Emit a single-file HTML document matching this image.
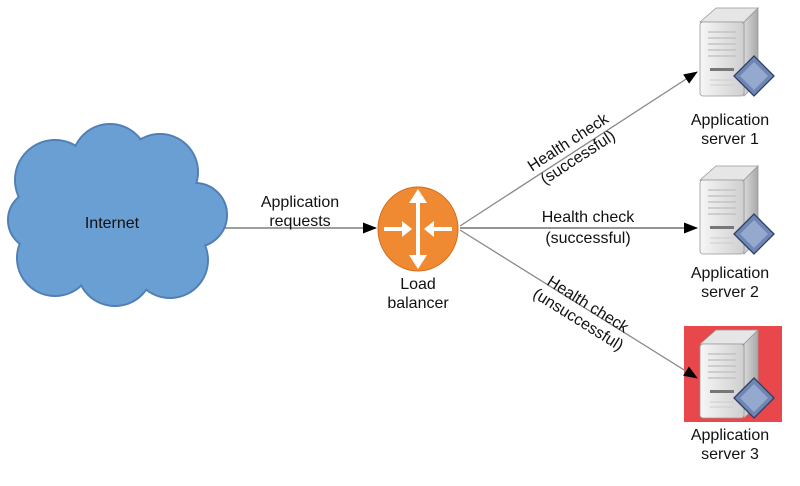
<!DOCTYPE html>
<html><head><meta charset="utf-8"><style>
html,body{margin:0;padding:0;background:#fff;}
svg{display:block;}
text{font-family:"Liberation Sans",Arial,sans-serif;font-size:16px;fill:#111;}
</style></head><body>
<svg width="800" height="486" viewBox="0 0 800 486" xmlns="http://www.w3.org/2000/svg">
<defs>
<marker id="ah" markerWidth="14" markerHeight="11" refX="13" refY="5.5" orient="auto" markerUnits="userSpaceOnUse">
<path d="M0,0 L14,5.5 L0,11 Z" fill="#000"/>
</marker>
<linearGradient id="srv" x1="0" x2="1"><stop offset="0" stop-color="#f6f6f6"/><stop offset="1" stop-color="#cfcfcf"/></linearGradient>
<linearGradient id="side" x1="0" x2="1"><stop offset="0" stop-color="#d8d8d8"/><stop offset="1" stop-color="#a8a8a8"/></linearGradient>
<g id="server">
<path d="M0,16 L16,2 L58,2 L44,16 Z" fill="#e6e6e6" stroke="#999" stroke-width="0.8"/>
<path d="M44,16 L58,2 L58,76 L44,90 Z" fill="url(#side)" stroke="#999" stroke-width="0.8"/>
<rect x="0" y="16" width="44" height="74" rx="3" fill="url(#srv)" stroke="#999" stroke-width="0.8"/>
<g stroke="#c4c4c4" stroke-width="1.5"><line x1="8" y1="26" x2="36" y2="26"/><line x1="8" y1="32" x2="36" y2="32"/><line x1="8" y1="38" x2="36" y2="38"/><line x1="8" y1="44" x2="36" y2="44"/><line x1="8" y1="50" x2="36" y2="50"/></g>
<rect x="10" y="62" width="24" height="3" fill="#777"/>
<g stroke="#ccc" stroke-width="1"><line x1="10" y1="74" x2="34" y2="74"/><line x1="10" y1="79" x2="34" y2="79"/></g>
<path d="M54,50 L74,70 L54,90 L34,70 Z" fill="#6f86b5" stroke="#2c3f66" stroke-width="1.3"/>
<path d="M54,56 L68,70 L54,84 L40,70 Z" fill="#a5b7d8" opacity="0.7"/>
</g>
</defs>

<!-- cloud -->
<g stroke="#4f7fb5" stroke-width="2" fill="#6a9fd4">
<circle cx="55" cy="180" r="40"/><circle cx="110" cy="162" r="38"/><circle cx="160" cy="172" r="38"/>
<circle cx="195" cy="215" r="32"/><circle cx="170" cy="260" r="38"/><circle cx="115" cy="268" r="38"/>
<circle cx="55" cy="258" r="38"/><circle cx="38" cy="220" r="30"/>
</g>
<g fill="#6a9fd4">
<circle cx="55" cy="180" r="39"/><circle cx="110" cy="162" r="37"/><circle cx="160" cy="172" r="37"/>
<circle cx="195" cy="215" r="31"/><circle cx="170" cy="260" r="37"/><circle cx="115" cy="268" r="37"/>
<circle cx="55" cy="258" r="37"/><circle cx="38" cy="220" r="29"/><ellipse cx="115" cy="218" rx="80" ry="60"/>
</g>
<text x="112" y="228" text-anchor="middle">Internet</text>

<!-- LB -->
<ellipse cx="418" cy="229" rx="40" ry="42" fill="#f08a32" stroke="#d06d1c" stroke-width="1"/>
<g stroke="#fff" stroke-width="4">
<line x1="418" y1="200" x2="418" y2="258"/>
<line x1="384" y1="229" x2="404" y2="229"/>
<line x1="432" y1="229" x2="452" y2="229"/>
</g>
<g fill="#fff">
<path d="M418,189 L409,203 L427,203 Z"/><path d="M418,269 L409,255 L427,255 Z"/>
<path d="M412,229 L402,221 L402,237 Z"/><path d="M424,229 L434,221 L434,237 Z"/>
</g>
<text x="418" y="289" text-anchor="middle">Load</text>
<text x="418" y="308" text-anchor="middle">balancer</text>

<!-- servers -->
<use href="#server" transform="translate(700,6)"/>
<text x="730" y="125" text-anchor="middle">Application</text>
<text x="730" y="144" text-anchor="middle">server 1</text>

<use href="#server" transform="translate(700,164)"/>
<text x="730" y="278" text-anchor="middle">Application</text>
<text x="730" y="297" text-anchor="middle">server 2</text>

<rect x="684" y="326" width="98" height="96" fill="#e8474b"/>
<use href="#server" transform="translate(700,328)"/>
<text x="730" y="440" text-anchor="middle">Application</text>
<text x="730" y="459" text-anchor="middle">server 3</text>

<!-- connectors -->
<line x1="225" y1="228" x2="376" y2="228" stroke="#666" stroke-width="1.3" marker-end="url(#ah)"/>
<text x="300" y="207" text-anchor="middle">Application</text>
<text x="300" y="226" text-anchor="middle">requests</text>

<line x1="460" y1="226" x2="697" y2="72" stroke="#888" stroke-width="1.3" marker-end="url(#ah)"/>
<line x1="460" y1="228" x2="697" y2="228" stroke="#555" stroke-width="1.3" marker-end="url(#ah)"/>
<line x1="460" y1="230" x2="697" y2="378" stroke="#888" stroke-width="1.3" marker-end="url(#ah)"/>

<g transform="translate(573,150) rotate(-33)">
<text x="0" y="-4" text-anchor="middle">Health check</text>
<text x="0" y="14" text-anchor="middle">(successful)</text>
</g>
<text x="588" y="222" text-anchor="middle">Health check</text>
<text x="588" y="243" text-anchor="middle">(successful)</text>
<g transform="translate(583,312) rotate(32)">
<text x="0" y="-4" text-anchor="middle">Health check</text>
<text x="0" y="14" text-anchor="middle">(unsuccessful)</text>
</g>
</svg>
</body></html>
